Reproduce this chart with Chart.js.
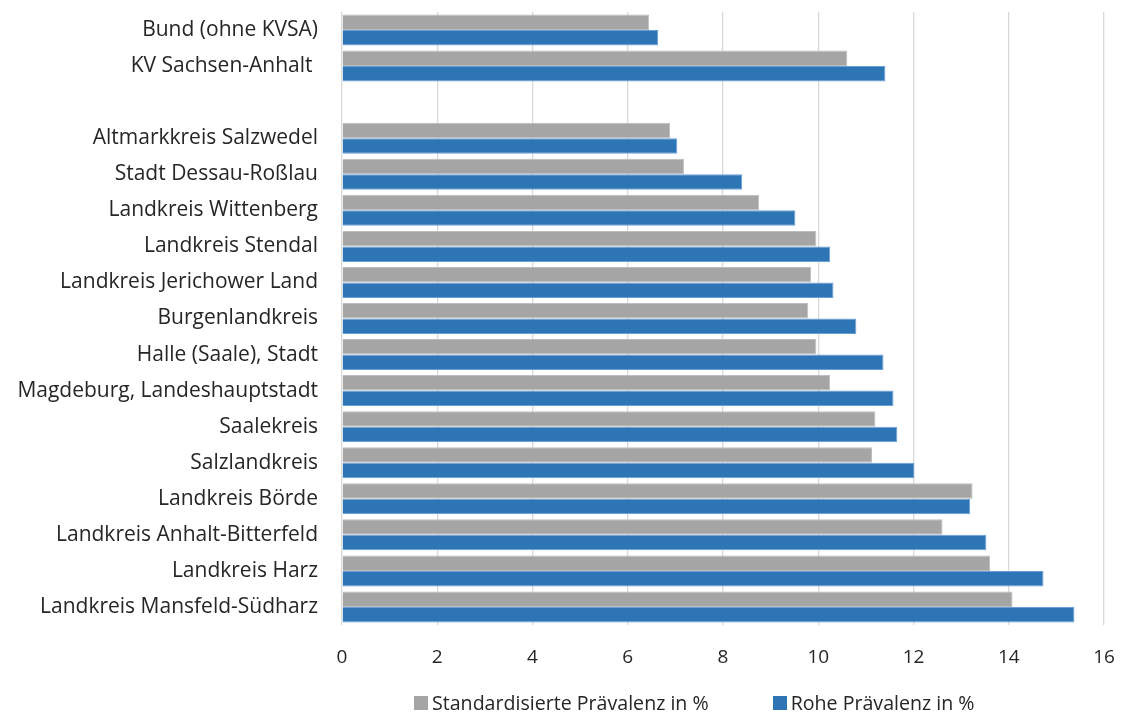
<!DOCTYPE html>
<html>
<head>
<meta charset="utf-8">
<script src="https://cdn.jsdelivr.net/npm/chart.js@4/dist/chart.umd.min.js"></script>
<style>
    html, body { margin: 0; padding: 0; background: #fff; }
    #wrap { position: relative; width: 1123px; height: 713px; }
    #legend {
        position: absolute; left: 414px; top: 689px;
        display: flex; align-items: center;
        font-family: 'Open Sans', sans-serif; font-size: 19.6px; color: #262626;
    }
    #legend .item { display: flex; align-items: center; margin-right: 64px; }
    #legend .box { width: 14px; height: 14px; margin-right: 4px; }
</style>
</head>
<body>
<div id="wrap">
    <canvas id="prevChart" width="1123" height="713"></canvas>
    <div id="legend"></div>
</div>
<script>
// Regionen (leerer Eintrag = Abstand zwischen KV-Werten und Kreisen)
const regions = [
    "Bund (ohne KVSA)",
    "KV Sachsen-Anhalt ",
    "",
    "Altmarkkreis Salzwedel",
    "Stadt Dessau-Roßlau",
    "Landkreis Wittenberg",
    "Landkreis Stendal",
    "Landkreis Jerichower Land",
    "Burgenlandkreis",
    "Halle (Saale), Stadt",
    "Magdeburg, Landeshauptstadt",
    "Saalekreis",
    "Salzlandkreis",
    "Landkreis Börde",
    "Landkreis Anhalt-Bitterfeld",
    "Landkreis Harz",
    "Landkreis Mansfeld-Südharz"
];

const standardised = [6.45, 10.61, null, 6.89, 7.18, 8.76, 9.96, 9.85, 9.79, 9.96, 10.25, 11.20, 11.13, 13.24, 12.61, 13.61, 14.08];
const crude = [6.64, 11.41, null, 7.04, 8.40, 9.52, 10.25, 10.32, 10.80, 11.37, 11.58, 11.66, 12.02, 13.19, 13.53, 14.73, 15.38];

const seriesNames = ["Standardisierte Prävalenz in %", "Rohe Prävalenz in %"];
const seriesColors = ["#a5a5a5", "#2e75b6"];
const xTicks = [0, 2, 4, 6, 8, 10, 12, 14, 16];

const fontFamily = "'Open Sans', sans-serif";

const ctx = document.getElementById('prevChart');

let prevChart = new Chart(ctx, {
    type: 'bar',
    data: {
        labels: regions,
        datasets: [{
            label: seriesNames[0],
            data: standardised,
            backgroundColor: seriesColors[0],
            borderColor: "#bdbdbd",
            borderWidth: 1,
            barPercentage: 1,
            categoryPercentage: 0.86
        }, {
            label: seriesNames[1],
            data: crude,
            backgroundColor: seriesColors[1],
            borderColor: "#6a9fd6",
            borderWidth: 1,
            barPercentage: 1,
            categoryPercentage: 0.86
        }]
    },
    options: {
        indexAxis: 'y',
        responsive: false,
        animation: false,
        layout: {
            padding: { top: 12, right: 19, left: 0, bottom: 0 }
        },
        scales: {
            x: {
                min: 0,
                max: 16,
                afterBuildTicks: function (scale) {
                    scale.ticks = xTicks.map(v => ({ value: v }));
                },
                afterFit: function (scale) {
                    scale.height = 88;
                    scale.paddingLeft = 0;
                    scale.paddingRight = 0;
                },
                grid: {
                    color: "#d9d9d9",
                    lineWidth: 1.3,
                    drawTicks: false
                },
                border: { display: false },
                ticks: {
                    padding: 21,
                    color: "#262626",
                    font: { family: fontFamily, size: 19 }
                }
            },
            y: {
                grid: { display: false },
                border: { display: false },
                afterFit: function (scale) {
                    scale.width = 342;
                    scale.paddingTop = 0;
                    scale.paddingBottom = 0;
                },
                ticks: {
                    padding: 16,
                    color: "#262626",
                    autoSkip: false,
                    font: { family: fontFamily, size: 21 }
                }
            }
        },
        plugins: {
            legend: { display: false },
            tooltip: { enabled: false }
        }
    }
});

// simple HTML legend from the datasets
let legendEl = document.getElementById('legend');
prevChart.data.datasets.forEach(function (ds) {
    let item = document.createElement('div');
    item.className = 'item';
    let box = document.createElement('span');
    box.className = 'box';
    box.style.background = ds.backgroundColor;
    item.appendChild(box);
    item.appendChild(document.createTextNode(ds.label));
    legendEl.appendChild(item);
});
</script>
</body>
</html>
